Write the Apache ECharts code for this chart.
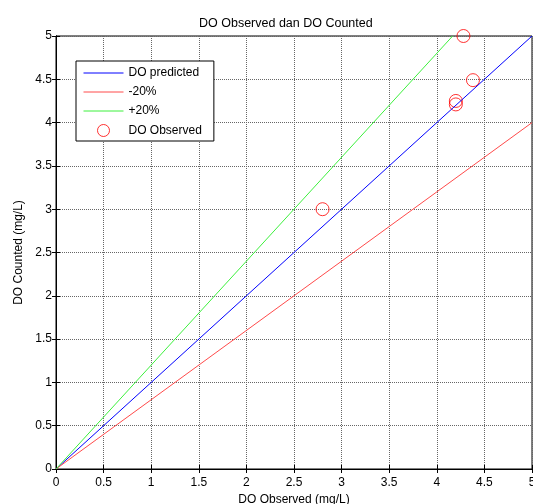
<!DOCTYPE html>
<html>
<head>
<meta charset="utf-8">
<script src="https://cdn.jsdelivr.net/npm/echarts@6/dist/echarts.min.js"></script>
<style>
  html, body { margin: 0; padding: 0; background: #fff; }
  #chart { width: 533px; height: 504px; }
</style>
</head>
<body>
<div id="chart"></div>
<script>
// Reference lines (end points) and observed pairs
var predictedLine = [[0, 0], [5, 5]];
var minus20Line = [[0, 0], [5, 4]];
var plus20Line = [[0, 0], [4.1667, 5]];
var observedX = [2.8, 4.2, 4.2, 4.38, 4.28];
var observedY = [3.0, 4.25, 4.21, 4.49, 5.0];
var tickStep = 0.5;

var observedPoints = observedX.map(function (x, i) { return [x, observedY[i]]; });

var font = 'Liberation Sans, Arial, sans-serif';
var gridLine = { show: true, lineStyle: { color: '#666', type: [1, 1], width: 1 } };
var lineKey = { itemStyle: { opacity: 0 }, lineStyle: { width: 1 } };

var chart = echarts.init(document.getElementById('chart'), null, { renderer: 'canvas' });
chart.setOption({
  animation: false,
  backgroundColor: '#fff',
  title: {
    text: 'DO Observed dan DO Counted',
    left: 194, top: 12,
    textStyle: { fontFamily: font, fontSize: 12.5, fontWeight: 'normal', color: '#000' }
  },
  grid: {
    left: 56, right: 1, top: 36, bottom: 35,
    outerBoundsMode: 'none', containLabel: false,
    show: true, borderColor: '#000', borderWidth: 1
  },
  legend: {
    orient: 'vertical',
    left: 76, top: 61,
    padding: [6, 12, 4, 7],
    itemGap: 7,
    itemWidth: 40, itemHeight: 12,
    backgroundColor: '#fff',
    borderColor: '#000', borderWidth: 1, borderRadius: 0,
    textStyle: { fontFamily: font, fontSize: 12, color: '#000' },
    data: [
      Object.assign({ name: 'DO predicted' }, lineKey),
      Object.assign({ name: '-20%' }, lineKey),
      Object.assign({ name: '+20%' }, lineKey),
      { name: 'DO Observed', itemStyle: { borderWidth: 1 } }
    ]
  },
  xAxis: [{
    type: 'value', min: 0, max: 5, interval: tickStep,
    name: 'DO Observed (mg/L)', nameLocation: 'middle', nameGap: 22,
    nameTextStyle: { fontFamily: font, fontSize: 12, color: '#000' },
    axisLine: { show: true, lineStyle: { color: '#000' } },
    axisTick: { show: true, inside: true, length: 4, lineStyle: { color: '#000' } },
    axisLabel: { fontFamily: font, fontSize: 12, color: '#000', margin: 8, hideOverlap: false },
    splitLine: gridLine
  }, {
    type: 'value', min: 0, max: 5, interval: tickStep, position: 'top',
    axisLine: { show: true, lineStyle: { color: '#000' } },
    axisTick: { show: true, inside: true, length: 4, lineStyle: { color: '#000' } },
    axisLabel: { show: false }, splitLine: { show: false }
  }],
  yAxis: [{
    type: 'value', min: 0, max: 5, interval: tickStep,
    name: 'DO Counted (mg/L)', nameLocation: 'middle', nameGap: 31,
    nameTextStyle: { fontFamily: font, fontSize: 12, color: '#000' },
    axisLine: { show: true, lineStyle: { color: '#000' } },
    axisTick: { show: true, inside: true, length: 4, lineStyle: { color: '#000' } },
    axisLabel: { fontFamily: font, fontSize: 12, color: '#000', margin: 4, hideOverlap: false },
    splitLine: gridLine
  }, {
    type: 'value', min: 0, max: 5, interval: tickStep, position: 'right',
    axisLine: { show: true, lineStyle: { color: '#000' } },
    axisTick: { show: true, inside: true, length: 4, lineStyle: { color: '#000' } },
    axisLabel: { show: false }, splitLine: { show: false }
  }],
  series: [{
    name: 'DO predicted', type: 'line', data: predictedLine, symbol: 'none',
    lineStyle: { color: '#0000ff', width: 1 }, itemStyle: { color: '#0000ff' }
  }, {
    name: '-20%', type: 'line', data: minus20Line, symbol: 'none',
    lineStyle: { color: '#ff4a4a', width: 1 }, itemStyle: { color: '#ff4a4a' }
  }, {
    name: '+20%', type: 'line', data: plus20Line, symbol: 'none',
    lineStyle: { color: '#3df03d', width: 1 }, itemStyle: { color: '#3df03d' }
  }, {
    name: 'DO Observed', type: 'scatter', data: observedPoints,
    symbol: 'circle', symbolSize: 13,
    itemStyle: { color: 'rgba(255,255,255,0)', borderColor: '#ff0000', borderWidth: 1 }
  }]
});
</script>
</body>
</html>
